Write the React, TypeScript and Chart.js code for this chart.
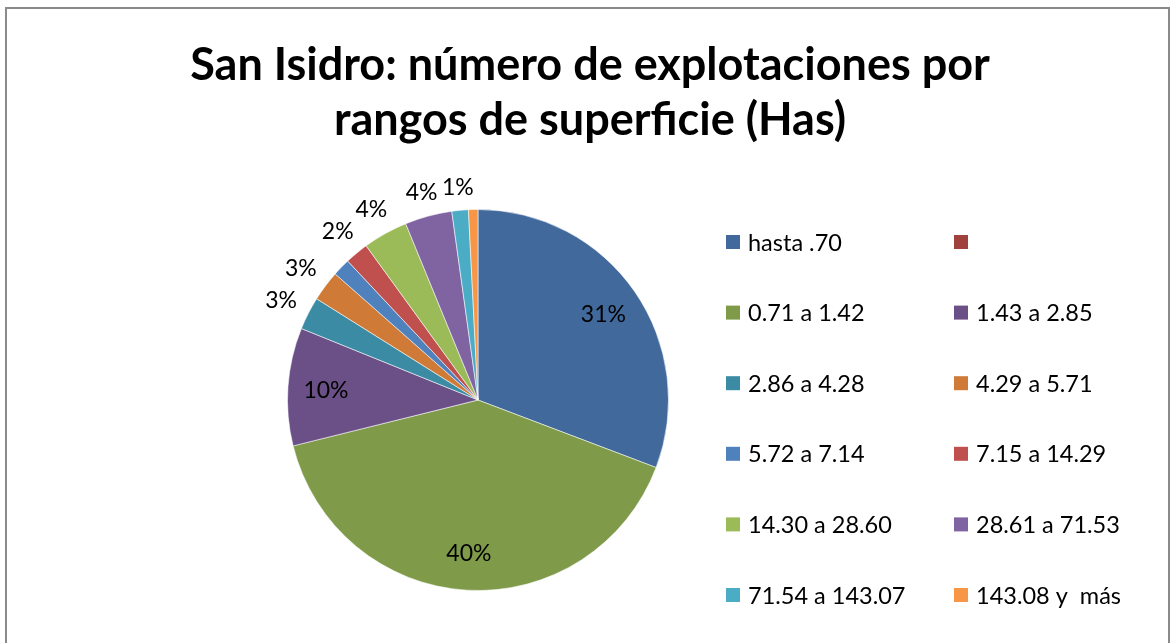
import React, { useEffect, useRef } from "react";
import { Chart, registerables } from "chart.js";

Chart.register(...registerables);

const titleLines = ["San Isidro: número de explotaciones por", "rangos de superficie (Has)"];
const categories = [
  "hasta .70", "", "0.71 a 1.42", "1.43 a 2.85", "2.86 a 4.28", "4.29 a 5.71",
  "5.72 a 7.14", "7.15 a 14.29", "14.30 a 28.60", "28.61 a 71.53", "71.54 a 143.07", "143.08 y  más",
];
const shares = [30.8, 0, 40.4, 10.0, 2.8, 2.6, 1.5, 2.0, 3.8, 4.0, 1.4, 0.8];
const showLabel = [true, false, true, true, true, true, false, true, true, true, true, false];
const colors = [
  "#41699C", "#A0413E", "#7F9B4A", "#6A5087", "#3A8BA3", "#CF7A36",
  "#4F81BD", "#C0504D", "#9BBB59", "#8064A2", "#4BACC6", "#F79646",
];

const FONT = "Lato, 'Open Sans', sans-serif";

const decorPlugin = {
  id: "decor",
  beforeDraw(chart: any) {
    const ctx = chart.ctx;
    ctx.save();
    ctx.fillStyle = "#ffffff";
    ctx.fillRect(0, 0, chart.width, chart.height);
    ctx.strokeStyle = "#8a8a8a";
    ctx.lineWidth = 2;
    ctx.strokeRect(6, 8, 1163, 700);
    ctx.restore();
  },
  afterDraw(chart: any) {
    const ctx = chart.ctx;
    ctx.save();
    // title
    ctx.fillStyle = "#000";
    ctx.font = `bold 45px ${FONT}`;
    ctx.textAlign = "center";
    ctx.textBaseline = "alphabetic";
    titleLines.forEach((t, i) => ctx.fillText(t, 590, 80 + i * 55));

    // legend
    ctx.font = `23.5px ${FONT}`;
    ctx.textAlign = "left";
    ctx.textBaseline = "middle";
    const labels = chart.data.labels as string[];
    const bg = chart.data.datasets[0].backgroundColor as string[];
    labels.forEach((lab, i) => {
      const col = i % 2;
      const row = Math.floor(i / 2);
      const x = col === 0 ? 726 : 954;
      const y = 242 + row * 70.6;
      ctx.fillStyle = bg[i];
      ctx.fillRect(x, y - 7, 14, 14);
      ctx.fillStyle = "#000";
      ctx.fillText(lab, x + 22, y + 1);
    });

    // data labels
    const meta = chart.getDatasetMeta(0);
    const data = chart.data.datasets[0].data as number[];
    const total = data.reduce((a, b) => a + b, 0);
    ctx.font = `23px ${FONT}`;
    ctx.textAlign = "center";
    meta.data.forEach((arc: any, i: number) => {
      if (!showLabel[i]) return;
      const pct = Math.round((data[i] / total) * 100);
      const txt = pct + "%";
      const { x, y, startAngle, endAngle, outerRadius } = arc.getProps(
        ["x", "y", "startAngle", "endAngle", "outerRadius"], true
      );
      const mid = (startAngle + endAngle) / 2;
      const c = Math.cos(mid);
      const s = Math.sin(mid);
      let r: number;
      if (pct >= 5) {
        r = outerRadius * 0.8;
      } else {
        const w = ctx.measureText(txt).width;
        const h = 20;
        r = outerRadius + 12 + Math.abs(c) * (w / 2) + Math.abs(s) * (h / 2);
      }
      ctx.fillStyle = "#000";
      ctx.fillText(txt, x + c * r, y + s * r + 1);
    });
    ctx.restore();
  },
};

export default function App() {
  const ref = useRef<HTMLCanvasElement | null>(null);
  useEffect(() => {
    document.body.style.margin = "0";
    const chart = new Chart(ref.current as HTMLCanvasElement, {
      type: "pie",
      data: {
        labels: categories,
        datasets: [
          {
            data: shares,
            backgroundColor: colors,
            borderColor: "rgba(255,255,255,0.55)",
            borderWidth: 1,
            hoverOffset: 0,
          },
        ],
      },
      options: {
        animation: false,
        responsive: false,
        layout: { padding: { left: 287, right: 504, top: 209, bottom: 52 } },
        plugins: {
          legend: { display: false },
          title: { display: false },
          tooltip: { enabled: false },
        },
      },
      plugins: [decorPlugin],
    });
    return () => chart.destroy();
  }, []);
  return (
    <div style={{ width: 1173, height: 643, position: "relative" }}>
      <canvas ref={ref} width={1173} height={643} style={{ display: "block" }} />
    </div>
  );
}
